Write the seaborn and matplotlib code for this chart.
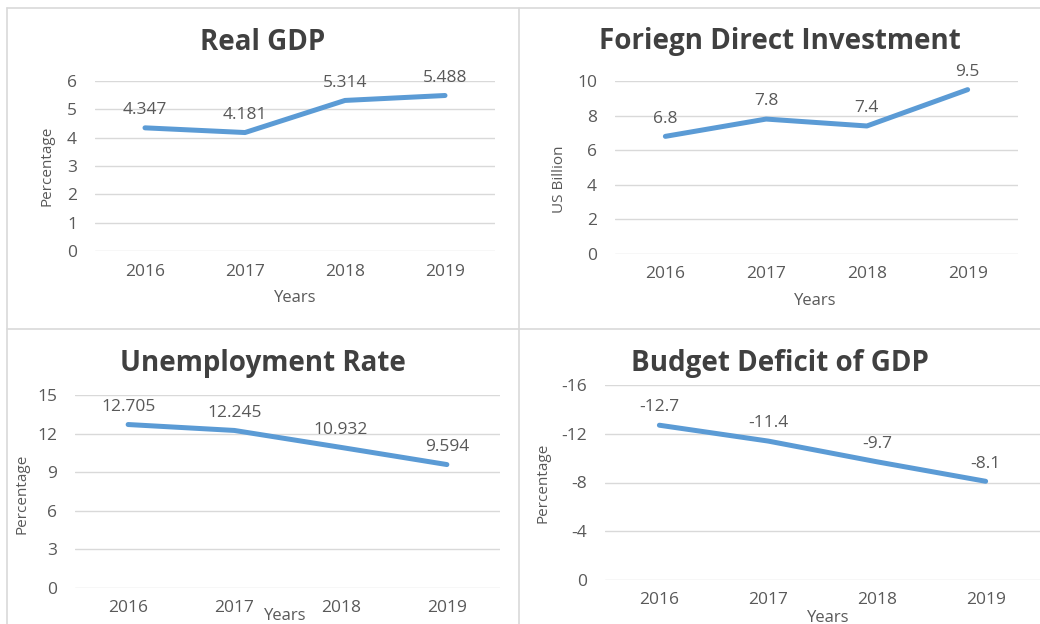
import matplotlib
matplotlib.use("Agg")
import matplotlib.pyplot as plt
import seaborn as sns
import pandas as pd

years = [2016, 2017, 2018, 2019]
real_gdp = [4.347, 4.181, 5.314, 5.488]
fdi = [6.8, 7.8, 7.4, 9.5]
unemployment = [12.705, 12.245, 10.932, 9.594]
budget_deficit = [-12.7, -11.4, -9.7, -8.1]

gdp_labels = ["4.347", "4.181", "5.314", "5.488"]
fdi_labels = ["6.8", "7.8", "7.4", "9.5"]
unemp_labels = ["12.705", "12.245", "10.932", "9.594"]
deficit_labels = ["-12.7", "-11.4", "-9.7", "-8.1"]

sns.set_theme(style="white")
plt.rcParams["font.family"] = ["Open Sans", "DejaVu Sans"]
plt.rcParams["axes.unicode_minus"] = False

LINE = "#5B9BD5"
GREY = "#595959"
GRID = "#D9D9D9"
W, H = 1040, 624

fig = plt.figure(figsize=(10.4, 6.24), dpi=100)


def px_axes(x0, y0, x1, y1):
    # pixel box (top-left origin) -> figure axes
    return fig.add_axes([x0 / W, 1 - y1 / H, (x1 - x0) / W, (y1 - y0) / H])


def panel(box, values, labels, title, title_xy, ylabel, ylim, yticks,
          xlab_xy, ylab_xy):
    ax = px_axes(*box)
    df = pd.DataFrame({"Year": years, "Value": values})
    sns.lineplot(data=df, x="Year", y="Value", ax=ax, color=LINE,
                 linewidth=3.6, solid_capstyle="round", zorder=3)
    ax.set_xlim(2015.5, 2019.5)
    ax.set_ylim(*ylim)
    ax.set_yticks(yticks)
    ax.set_xticks(years)
    ax.set_xticklabels([str(y) for y in years])
    ax.grid(axis="y", color=GRID, linewidth=1)
    ax.set_axisbelow(True)
    for s in ax.spines.values():
        s.set_visible(False)
    ax.tick_params(axis="both", length=0, labelsize=12.5, colors=GREY)
    ax.tick_params(axis="y", pad=13)
    ax.tick_params(axis="x", pad=9)
    ax.set_xlabel("Years", fontsize=12, color=GREY)
    ax.set_ylabel(ylabel, fontsize=11, color=GREY)
    ax.xaxis.set_label_coords(*xlab_xy)
    ax.yaxis.set_label_coords(*ylab_xy)
    for x, v, t in zip(years, values, labels):
        ax.annotate(t, (x, v), xytext=(0, 7), textcoords="offset points",
                    ha="center", va="bottom", fontsize=12.5, color=GREY)
    fig.text(title_xy[0] / W, 1 - title_xy[1] / H, title, ha="center",
             va="center", fontsize=20, fontweight="bold", color="#404040")
    return ax


panel((95, 81, 495, 251), real_gdp, gdp_labels, "Real GDP", (263, 42),
      "Percentage", (0, 6), range(0, 7), (0.5, -0.23), (-0.1025, 0.5))
panel((615, 81, 1018, 254), fdi, fdi_labels, "Foriegn Direct Investment",
      (780, 42), "US Billion", (0, 10), range(0, 11, 2),
      (0.496, -0.225), (-0.119, 0.43))
panel((75, 395, 500, 588), unemployment, unemp_labels, "Unemployment Rate",
      (263, 363), "Percentage", (0, 15), range(0, 16, 3),
      (0.494, -0.104), (-0.106, 0.49))
panel((605, 385, 1040, 580), budget_deficit, deficit_labels,
      "Budget Deficit of GDP", (780, 363), "Percentage", (0, -16),
      range(0, -17, -4), (0.513, -0.154), (-0.126, 0.5))

# panel borders
for x in (7, 519):
    fig.add_artist(plt.Line2D([x / W, x / W], [0, 1 - 8 / H], color=GRID, lw=1.2))
for y in (8, 329):
    fig.add_artist(plt.Line2D([7 / W, 1], [1 - y / H, 1 - y / H], color=GRID, lw=1.2))

fig.savefig("out.png", dpi=100)
